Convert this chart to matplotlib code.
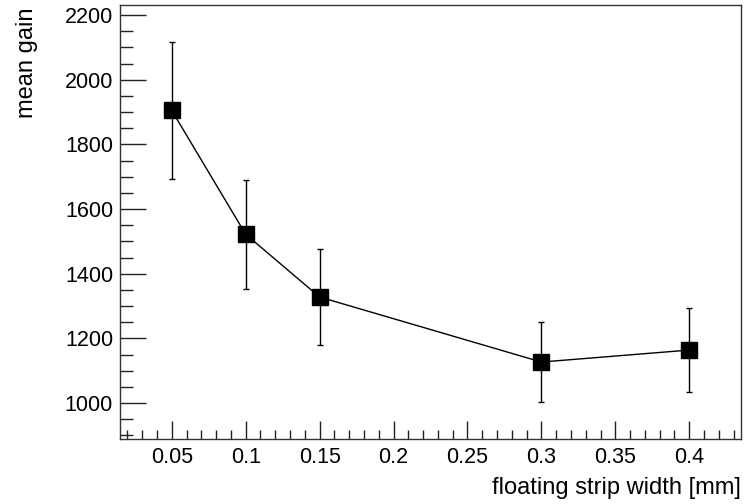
import matplotlib
matplotlib.use("Agg")
import matplotlib.pyplot as plt
from matplotlib.ticker import MultipleLocator, FuncFormatter

plt.rcParams["font.family"] = ["Liberation Sans", "DejaVu Sans"]

strip_width = [0.05, 0.1, 0.15, 0.3, 0.4]
mean_gain = [1905, 1522, 1328, 1127, 1164]
gain_err = [212, 169, 148, 125, 130]

fig = plt.figure(figsize=(7.45, 5.04), dpi=100)
ax = fig.add_axes([120 / 745, 65 / 504, 621 / 745, 434 / 504])

ax.errorbar(strip_width, mean_gain, yerr=gain_err, fmt="none",
            ecolor="black", elinewidth=1.0, capsize=2.5, capthick=1.0, zorder=2)
ax.plot(strip_width, mean_gain, color="black", lw=1.0, marker="s",
        markersize=12, markerfacecolor="black", markeredgecolor="black", zorder=3)

ax.set_xlim(0.015, 0.435)
ax.set_ylim(889, 2231)

ax.xaxis.set_major_locator(MultipleLocator(0.05))
ax.xaxis.set_minor_locator(MultipleLocator(0.01))
ax.yaxis.set_major_locator(MultipleLocator(200))
ax.yaxis.set_minor_locator(MultipleLocator(50))
ax.xaxis.set_major_formatter(FuncFormatter(lambda v, p: f"{v:g}"))

ax.tick_params(axis="both", which="both", direction="in", top=False, right=False,
               labelsize=15.5, width=1.0, color="#222222")
ax.tick_params(axis="x", which="major", length=13, pad=6)
ax.tick_params(axis="x", which="minor", length=6.5)
ax.tick_params(axis="y", which="major", length=19, pad=5)
ax.tick_params(axis="y", which="minor", length=9.5)

for side in ax.spines.values():
    side.set_linewidth(1.0)
    side.set_color("#333333")

fig.text(741 / 745, 1 - 488 / 504, "floating strip width [mm]", ha="right",
         va="center", fontsize=17)
fig.text(27 / 745, 1 - 8 / 504, "mean gain", ha="center", va="top",
         rotation=90, fontsize=17)

fig.savefig("out.png", dpi=100)
